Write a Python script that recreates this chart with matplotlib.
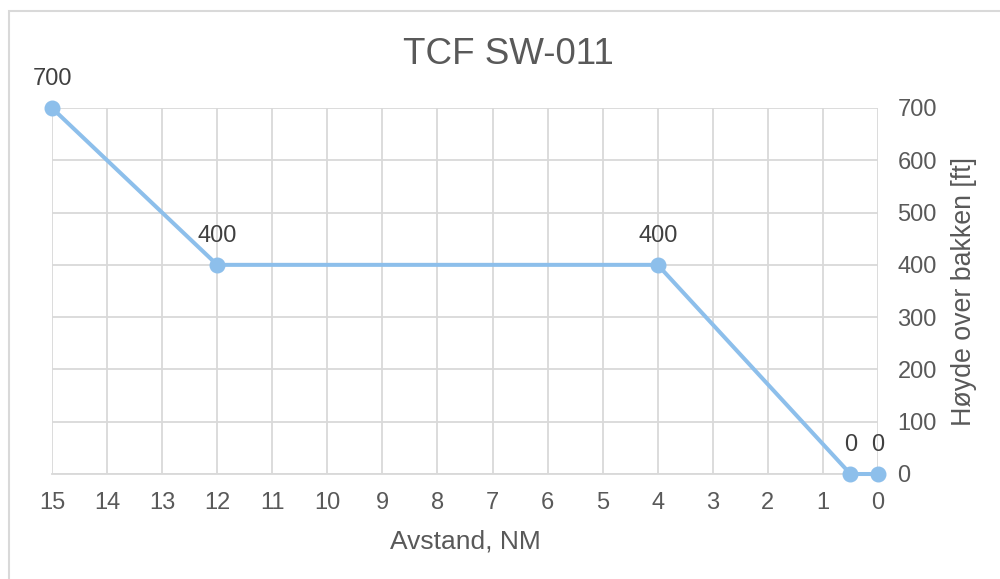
import matplotlib.pyplot as plt
from matplotlib.patches import Rectangle

# data
distance_nm = [15, 12, 4, 0.5, 0]
height_ft = [700, 400, 400, 0, 0]
x_ticks = list(range(0, 16))
y_ticks = list(range(0, 701, 100))

line_color = '#8DBFEB'
grid_color = '#D9D9D9'
text_color = '#595959'

plt.rcParams['font.family'] = ['Liberation Sans', 'DejaVu Sans']

fig = plt.figure(figsize=(10, 5.79), dpi=100)
fig.patches.append(Rectangle((0.009, -0.05), 1.1, 1.05 - 11 / 579, transform=fig.transFigure,
                             fill=False, edgecolor=grid_color, linewidth=1.5))

ax = fig.add_axes([0.052, 1 - 474 / 579, 0.826, (474 - 108) / 579])
ax.plot(distance_nm, height_ft, color=line_color, linewidth=2.9, marker='o',
        markersize=10.5, clip_on=False, zorder=3)

for x, y in zip(distance_nm, height_ft):
    ax.annotate(str(y), (x, y), xytext=(0, 13), textcoords='offset points',
                ha='center', va='bottom', fontsize=17, color='#404040')

ax.set_xlim(15, 0)
ax.set_ylim(0, 700)
ax.set_xticks(x_ticks)
ax.set_yticks(y_ticks)
ax.grid(True, color=grid_color, linewidth=1.3)
ax.set_axisbelow(True)
for side in ['top', 'left', 'right']:
    ax.spines[side].set_visible(False)
ax.spines['bottom'].set_color(grid_color)
ax.spines['bottom'].set_linewidth(1.3)

ax.yaxis.tick_right()
ax.yaxis.set_label_position('right')
ax.tick_params(axis='both', length=0, labelsize=17, colors=text_color)
ax.tick_params(axis='x', pad=13)
ax.tick_params(axis='y', pad=14)

ax.set_xlabel('Avstand, NM', fontsize=19, color=text_color, labelpad=11)
ax.set_ylabel('Høyde over bakken [ft]', fontsize=19.3, color=text_color, labelpad=10)
fig.text(0.508, 1 - 55 / 579, 'TCF SW-011', ha='center', va='center',
         fontsize=26.5, color=text_color)

fig.savefig('out.png', dpi=100)
